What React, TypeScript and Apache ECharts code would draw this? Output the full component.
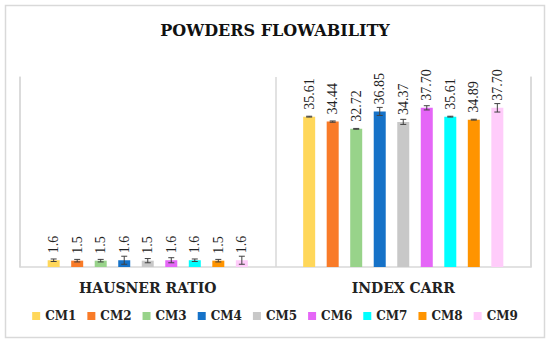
import React, { useEffect, useRef } from "react";
import * as echarts from "echarts";

const categories = ["HAUSNER RATIO", "INDEX CARR"];
const seriesNames = ["CM1", "CM2", "CM3", "CM4", "CM5", "CM6", "CM7", "CM8", "CM9"];
const colors = ["#FFD75A", "#F97B28", "#98D38A", "#1672C8", "#C8C8C8", "#E566F7", "#00FFFF", "#FF9400", "#FFCCFA"];
const hausner = [1.6, 1.5, 1.5, 1.6, 1.5, 1.6, 1.6, 1.5, 1.6];
const carr = [35.61, 34.44, 32.72, 36.85, 34.37, 37.7, 35.61, 34.89, 37.7];
const hausnerErr = [0.3, 0.3, 0.3, 0.95, 0.5, 0.6, 0.3, 0.3, 0.95];
const carrErr = [0.1, 0.15, 0.1, 0.95, 0.6, 0.5, 0.1, 0.1, 1.0];
const decimals = [1, 2];

const BAR_W = 12;
const GAP = 0.96;

export default function App() {
  const ref = useRef<HTMLDivElement>(null);
  useEffect(() => {
    document.body.style.margin = "0";
    if (!ref.current) return;
    const chart = echarts.init(ref.current, null, { renderer: "svg" });
    const step = BAR_W * (1 + GAP);
    const series: any[] = [];
    seriesNames.forEach((name, i) => {
      series.push({
        name,
        type: "bar",
        barWidth: BAR_W,
        barGap: GAP * 100 + "%",
        itemStyle: { color: colors[i] },
        data: [hausner[i], carr[i]],
        label: {
          show: true,
          position: "top",
          distance: 7,
          rotate: 90,
          align: "left",
          verticalAlign: "middle",
          fontFamily: "Liberation Serif",
          fontSize: 14,
          color: "#222",
          formatter: (p: any) => p.value.toFixed(decimals[p.dataIndex]),
        },
      });
    });
    seriesNames.forEach((name, i) => {
      series.push({
        type: "custom",
        name: name + "-err",
        z: 5,
        silent: true,
        data: [
          [0, hausner[i], hausnerErr[i]],
          [1, carr[i], carrErr[i]],
        ],
        renderItem: (params: any, api: any) => {
          const c = api.value(0);
          const v = api.value(1);
          const e = api.value(2);
          const top = api.coord([c, v + e]);
          const bot = api.coord([c, v - e]);
          const x = top[0] + (i - 4) * step;
          const hw = 3;
          const style = { stroke: "#404040", lineWidth: 1 };
          return {
            type: "group",
            children: [
              { type: "line", shape: { x1: x, y1: top[1], x2: x, y2: bot[1] }, style },
              { type: "line", shape: { x1: x - hw, y1: top[1], x2: x + hw, y2: top[1] }, style },
              { type: "line", shape: { x1: x - hw, y1: bot[1], x2: x + hw, y2: bot[1] }, style },
            ],
          };
        },
      });
    });
    const edgeAxis = (position: string) => ({
      type: "value",
      position,
      min: 0,
      max: 45,
      axisLine: { show: true, lineStyle: { color: "#d9d9d9", width: 1.5 } },
      axisTick: { show: false },
      axisLabel: { show: false },
      splitLine: { show: false },
    });
    chart.setOption({
      animation: false,
      backgroundColor: "#fff",
      title: {
        text: "POWDERS FLOWABILITY",
        left: "center",
        top: 22,
        padding: 0,
        textStyle: { fontFamily: "DejaVu Serif", fontWeight: "bold", fontSize: 16, color: "#111" },
      },
      graphic: [
        {
          type: "rect",
          shape: { x: 5.5, y: 5.5, width: 539, height: 332 },
          style: { fill: "none", stroke: "#d9d9d9", lineWidth: 1.5 },
          silent: true,
        },
      ],
      legend: {
        data: seriesNames,
        bottom: 17,
        left: "center",
        icon: "rect",
        itemWidth: 8,
        itemHeight: 8,
        itemGap: 11,
        textStyle: { fontFamily: "DejaVu Serif", fontWeight: "bold", fontSize: 12, color: "#222" },
      },
      grid: { left: 20, right: 19, top: 77, bottom: 77 },
      xAxis: {
        type: "category",
        data: categories,
        axisTick: { show: false },
        axisLine: { lineStyle: { color: "#d9d9d9", width: 1.5 } },
        splitLine: { show: true, lineStyle: { color: "#d9d9d9", width: 1.5 } },
        axisLabel: {
          margin: 14,
          fontFamily: "DejaVu Serif",
          fontWeight: "bold",
          fontSize: 14,
          color: "#222",
        },
      },
      yAxis: [edgeAxis("left"), edgeAxis("right")],
      series,
    });
    return () => chart.dispose();
  }, []);
  return <div ref={ref} style={{ width: 550, height: 344 }} />;
}
